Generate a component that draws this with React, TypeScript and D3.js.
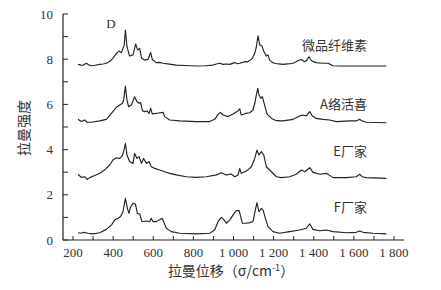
import React from "react";
import * as d3 from "d3";

const W = 441;
const H = 290;

const xTicks = [200, 300, 400, 500, 600, 700, 800, 900, 1000, 1100, 1200, 1300, 1400, 1500, 1600, 1700, 1800];
const xTickLabels = ["200", "400", "600", "800", "1 000", "1 200", "1 400", "1 600", "1 800"];
const xLabelValues = [200, 400, 600, 800, 1000, 1200, 1400, 1600, 1800];
const yTicks = [0, 1, 2, 3, 4, 5, 6, 7, 8, 9, 10];
const yLabelValues = [0, 2, 4, 6, 8, 10];

const seriesNames = ["微品纤维素", "A络活喜", "E厂家", "F厂家"];
const seriesLabelY = [8.6, 6.0, 3.9, 1.46];

const mcc: [number, number][] = [[225,7.77],[240,7.74],[250,7.73],[266,7.82],[278,7.75],[291,7.71],[310,7.73],[333,7.77],[350,7.79],[366,7.82],[385,7.92],[399,8.04],[416,8.26],[429,8.36],[441,8.29],[449,8.48],[455,8.6],[461,9.29],[469,8.55],[482,8.14],[499,8.19],[512,8.67],[522,8.41],[532,8.48],[542,8.04],[557,7.96],[574,7.99],[587,8.30],[595,7.99],[615,7.85],[630,7.86],[649,7.82],[680,7.78],[715,7.74],[760,7.72],[815,7.70],[860,7.71],[898,7.74],[915,7.79],[931,7.82],[948,7.77],[965,7.79],[981,7.77],[1006,7.85],[1020,7.80],[1031,7.82],[1045,7.86],[1056,7.89],[1070,7.88],[1081,7.94],[1095,8.05],[1106,8.26],[1114,8.55],[1122,9.03],[1131,8.63],[1142,8.58],[1152,8.33],[1164,8.14],[1172,8.19],[1180,7.96],[1195,7.85],[1205,7.82],[1225,7.79],[1247,7.77],[1270,7.79],[1297,7.82],[1310,7.88],[1322,7.94],[1338,7.99],[1355,7.89],[1365,7.95],[1376,8.11],[1388,7.94],[1400,7.88],[1413,7.85],[1446,7.82],[1471,7.82],[1485,7.76],[1496,7.71],[1529,7.70],[1612,7.70],[1762,7.70]];

const aSeries: [number, number][] = [[225,5.34],[241,5.24],[258,5.31],[270,5.21],[291,5.21],[333,5.27],[366,5.34],[391,5.60],[416,5.87],[433,5.97],[446,6.05],[453,6.22],[461,6.81],[469,6.19],[477,5.90],[491,5.97],[507,6.34],[519,6.12],[529,6.05],[537,6.08],[546,5.72],[557,5.68],[569,5.71],[579,5.60],[587,5.83],[595,5.58],[615,5.60],[632,5.63],[649,5.65],[657,5.46],[682,5.31],[732,5.27],[815,5.24],[881,5.24],[906,5.34],[923,5.56],[934,5.65],[948,5.53],[973,5.46],[998,5.58],[1023,5.72],[1031,5.80],[1039,5.53],[1061,5.60],[1081,5.63],[1097,5.75],[1106,6.05],[1114,6.42],[1121,6.71],[1127,6.42],[1136,6.27],[1144,6.34],[1155,5.97],[1167,5.58],[1189,5.38],[1214,5.28],[1247,5.27],[1297,5.34],[1330,5.49],[1347,5.53],[1363,5.49],[1380,5.68],[1393,5.49],[1413,5.38],[1446,5.34],[1479,5.31],[1513,5.24],[1579,5.27],[1612,5.27],[1629,5.34],[1637,5.29],[1662,5.21],[1762,5.19]];

const eSeries: [number, number][] = [[225,2.91],[241,2.77],[258,2.80],[270,2.68],[283,2.76],[308,2.85],[333,2.95],[358,3.10],[383,3.32],[399,3.54],[416,3.64],[433,3.61],[446,3.73],[454,3.98],[461,4.28],[469,3.76],[482,3.47],[499,3.39],[507,3.83],[519,3.61],[529,3.69],[541,3.39],[552,3.61],[566,3.39],[579,3.47],[590,3.24],[607,3.17],[632,3.10],[657,3.02],[682,2.95],[715,2.88],[765,2.80],[815,2.77],[865,2.80],[915,2.88],[939,2.98],[964,2.88],[989,2.92],[1006,2.80],[1023,2.88],[1031,3.17],[1039,2.95],[1056,3.02],[1072,3.10],[1089,3.24],[1106,3.61],[1117,3.98],[1127,3.76],[1139,3.91],[1151,3.76],[1164,3.24],[1189,3.02],[1214,2.80],[1239,2.76],[1280,2.80],[1313,2.91],[1338,3.10],[1355,3.02],[1380,3.20],[1396,2.99],[1430,2.91],[1463,2.95],[1496,2.76],[1563,2.76],[1612,2.80],[1629,2.91],[1641,2.80],[1662,2.76],[1762,2.73]];

const fSeries: [number, number][] = [[225,0.32],[241,0.30],[253,0.34],[275,0.30],[300,0.27],[333,0.32],[366,0.47],[391,0.66],[408,0.88],[424,0.96],[436,1.03],[449,1.25],[461,1.84],[471,1.40],[479,1.18],[487,1.47],[499,1.62],[511,1.59],[521,1.18],[532,1.15],[544,0.81],[566,0.84],[582,0.81],[590,0.96],[599,0.81],[615,0.81],[627,0.88],[635,0.91],[644,0.96],[652,0.81],[665,0.52],[690,0.37],[732,0.30],[815,0.27],[881,0.30],[906,0.44],[923,0.81],[939,1.00],[951,0.91],[964,0.74],[981,0.88],[998,1.11],[1014,1.30],[1028,1.30],[1036,1.03],[1044,0.74],[1064,0.74],[1081,0.77],[1097,0.81],[1109,1.33],[1117,1.65],[1127,1.25],[1139,1.40],[1147,1.33],[1159,0.96],[1172,0.59],[1197,0.37],[1230,0.30],[1280,0.37],[1330,0.44],[1363,0.52],[1380,0.71],[1396,0.47],[1430,0.41],[1463,0.44],[1496,0.37],[1563,0.32],[1612,0.34],[1629,0.40],[1646,0.34],[1696,0.30],[1762,0.27]];

const allSeries = [mcc, aSeries, eSeries, fSeries];

const numFont = "'Liberation Serif', 'DejaVu Serif', serif";
const cjkFont = "'Noto Sans CJK SC', sans-serif";

export default function App() {
  const x = d3.scaleLinear().domain([150, 1850]).range([63, 404]);
  const y = d3.scaleLinear().domain([0, 10]).range([240, 14]);
  const line = d3
    .line<[number, number]>()
    .x((d) => x(d[0]))
    .y((d) => y(d[1]))
    .curve(d3.curveLinear);

  const stroke = "#222";
  const textFill = "#333";

  return (
    <svg
      width={W}
      height={H}
      viewBox={`0 0 ${W} ${H}`}
      style={{ position: "absolute", left: 0, top: 0, background: "#fff" }}
    >
      <rect x={0} y={0} width={W} height={H} fill="#fff" />
      <line x1={x(150)} x2={x(150)} y1={y(10)} y2={y(0)} stroke={stroke} strokeWidth={1.2} />
      <line x1={x(150)} x2={x(1850)} y1={y(0)} y2={y(0)} stroke={stroke} strokeWidth={1.2} />
      {yTicks.map((t) => (
        <line key={"yt" + t} x1={x(150)} x2={x(150) + 5} y1={y(t)} y2={y(t)} stroke={stroke} strokeWidth={1} />
      ))}
      {yLabelValues.map((t) => (
        <text
          key={"yl" + t}
          x={53}
          y={y(t)}
          dy="0.35em"
          textAnchor="end"
          fontFamily={numFont}
          fontSize={13}
          fill={textFill}
        >
          {t}
        </text>
      ))}
      {xTicks.map((t) => (
        <line key={"xt" + t} x1={x(t)} x2={x(t)} y1={y(0)} y2={y(0) - 4} stroke={stroke} strokeWidth={1} />
      ))}
      {xLabelValues.map((t, i) => (
        <text
          key={"xl" + t}
          x={x(t)}
          y={257}
          textAnchor="middle"
          fontFamily={numFont}
          fontSize={13}
          fill={textFill}
        >
          {xTickLabels[i]}
        </text>
      ))}
      <text
        transform={`translate(24,128) rotate(-90)`}
        textAnchor="middle"
        dy="0.35em"
        fontFamily={cjkFont}
        fontSize={14}
        fill={textFill}
      >
        拉曼强度
      </text>
      <text x={231} y={276} textAnchor="middle" fontFamily={cjkFont} fontSize={14} fill={textFill}>
        拉曼位移（σ/cm<tspan dy={-5} fontSize={9}>-1</tspan>
        <tspan dy={5}>）</tspan>
      </text>
      {allSeries.map((s, i) => (
        <path key={"s" + i} d={line(s) || ""} fill="none" stroke={stroke} strokeWidth={1.15} strokeLinejoin="round" />
      ))}
      {seriesNames.map((n, i) => (
        <text
          key={"n" + i}
          x={367}
          y={y(seriesLabelY[i])}
          dy="0.35em"
          textAnchor="end"
          fontFamily={cjkFont}
          fontSize={13}
          fill={textFill}
        >
          {n}
        </text>
      ))}
      <text x={111} y={y(9.6)} dy="0.35em" textAnchor="middle" fontFamily={numFont} fontSize={13} fill={textFill}>
        D
      </text>
    </svg>
  );
}
